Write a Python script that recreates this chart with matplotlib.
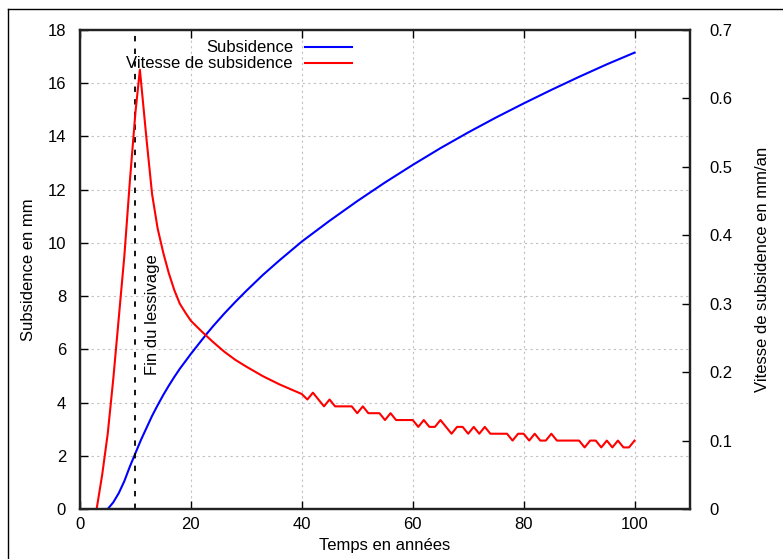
import matplotlib
matplotlib.use("Agg")
import matplotlib.pyplot as plt
from matplotlib.lines import Line2D
from matplotlib.ticker import FuncFormatter

# subsidence cumulée (mm)
annees_sub = [5, 6, 7, 8, 9, 10, 11, 12, 13, 14, 15, 16, 17, 18, 19, 20, 22,
              23, 24, 26, 28, 30, 33, 36, 40, 45, 50, 55, 60, 65, 70, 75, 80,
              85, 90, 95, 100]
subsidence = [0.0, 0.25, 0.6, 1.05, 1.6, 2.1, 2.6, 3.05, 3.5, 3.9, 4.28, 4.63,
              4.96, 5.27, 5.55, 5.83, 6.36, 6.62, 6.87, 7.34, 7.78, 8.2, 8.8,
              9.35, 10.05, 10.83, 11.57, 12.27, 12.93, 13.56, 14.15, 14.71,
              15.24, 15.75, 16.24, 16.71, 17.15]

# vitesse de subsidence (mm/an)
annees_vit = [3, 4, 5, 6, 7, 8, 9, 10, 10.8, 12, 13, 14, 15, 16, 17, 18, 19, 20,
              22, 24, 26, 28, 30, 33, 36, 38, 40, 41, 42, 43, 44, 45, 46, 47,
              48, 49, 50, 51, 52, 53, 54, 55, 56, 57, 58, 59, 60, 61, 62, 63,
              64, 65, 66, 67, 68, 69, 70, 71, 72, 73, 74, 75, 76, 77, 78, 79,
              80, 81, 82, 83, 84, 85, 86, 87, 88, 89, 90, 91, 92, 93, 94, 95,
              96, 97, 98, 99, 100]
vitesse = [0.0, 0.05, 0.11, 0.19, 0.28, 0.37, 0.48, 0.58, 0.642, 0.54, 0.46,
           0.41, 0.375, 0.345, 0.32, 0.30, 0.287, 0.275, 0.259, 0.244, 0.23,
           0.218, 0.208, 0.194, 0.182, 0.175, 0.168,
           0.16, 0.17, 0.16, 0.15, 0.16, 0.15, 0.15, 0.15, 0.15, 0.14, 0.15,
           0.14, 0.14, 0.14, 0.13, 0.14, 0.13, 0.13, 0.13, 0.13, 0.12, 0.13,
           0.12, 0.12, 0.13, 0.12, 0.11, 0.12, 0.12, 0.11, 0.12, 0.11, 0.12,
           0.11, 0.11, 0.11, 0.11, 0.10, 0.11, 0.11, 0.10, 0.11, 0.10, 0.10,
           0.11, 0.10, 0.10, 0.10, 0.10, 0.10, 0.09, 0.10, 0.10, 0.09, 0.10,
           0.09, 0.10, 0.09, 0.09, 0.10]

fin_lessivage = 10

plt.rcParams['font.family'] = ['Liberation Sans', 'DejaVu Sans']
plt.rcParams['font.size'] = 12

fig = plt.figure(figsize=(7.83, 5.59), dpi=100)
ax = fig.add_axes([80 / 783, 1 - 509 / 559, 610 / 783, 479 / 559])
ax2 = ax.twinx()

ax.plot(annees_sub, subsidence, color='#0000ff', lw=1.5)
ax2.plot(annees_vit, vitesse, color='#ff0000', lw=1.5)
ax.axvline(fin_lessivage, color='black', lw=1.3, ls=(0, (3, 4)))
ax.text(13.0, 7.3, "Fin du lessivage", rotation=90, ha='center', va='center')

ax.set_xlim(0, 110)
ax.set_ylim(0, 18)
ax2.set_ylim(0, 0.7)
ax.set_xticks(range(0, 101, 20))
ax.set_yticks(range(0, 19, 2))
ax2.set_yticks([i / 10 for i in range(8)])
ax2.yaxis.set_major_formatter(FuncFormatter(lambda v, p: f"{v:g}"))

ax.grid(True, color='#c0c0c0', ls=(0, (2, 3)), lw=0.8)
ax.tick_params(axis='x', direction='in', length=6, width=1, top=True, pad=6)
ax.tick_params(axis='y', direction='in', length=6, width=1, pad=10)
ax2.tick_params(axis='y', direction='in', length=6, width=1, pad=14)
for a in (ax, ax2):
    for s in a.spines.values():
        s.set_linewidth(1.6)
        s.set_color('#222222')

ax.set_xlabel("Temps en années", labelpad=4)
ax.set_ylabel("Subsidence en mm", labelpad=8)
ax2.set_ylabel("Vitesse de subsidence en mm/an", labelpad=16)

# légende à la gnuplot : texte aligné à droite, échantillon à droite
for i, (nom, coul) in enumerate([("Subsidence", '#0000ff'),
                                 ("Vitesse de subsidence", '#ff0000')]):
    y = 1 - (17 + 16 * i) / 479
    ax.text(213 / 610, y, nom, transform=ax.transAxes, ha='right', va='center')
    ax.add_line(Line2D([225 / 610, 272 / 610], [y, y], color=coul, lw=1.5,
                       transform=ax.transAxes))

# cadre extérieur
fig.add_artist(Line2D([8 / 783, 8 / 783], [-0.1, 1 - 9 / 559], color='black', lw=1))
fig.add_artist(Line2D([8 / 783, 1.1], [1 - 9 / 559, 1 - 9 / 559], color='black', lw=1))

fig.savefig("out.png", dpi=100)
